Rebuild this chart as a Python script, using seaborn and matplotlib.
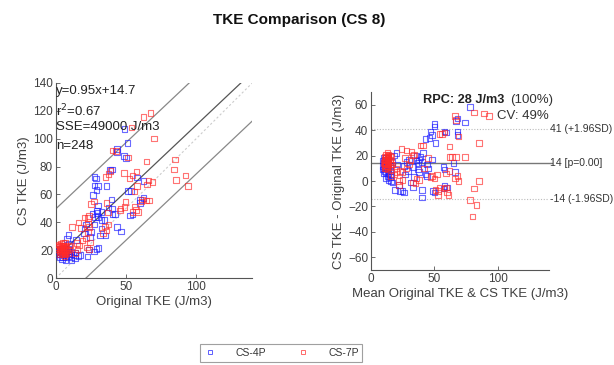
import numpy as np
import pandas as pd
import matplotlib
matplotlib.use("Agg")
import matplotlib.pyplot as plt
import seaborn as sns

sns.set_theme(style="white")
plt.rcParams['font.family'] = ['Liberation Sans', 'DejaVu Sans']

# Bland-Altman readings (mean, difference) per group; original/CS derived from them
blue_mean = [78, 68, 67, 74, 50, 50, 47, 48, 46, 51, 43, 58, 59, 68, 68, 48, 39, 38, 40, 37,
             36, 36, 44, 45, 37, 38, 43, 44, 57, 58, 66, 58, 60, 57, 49, 50, 40, 40, 31, 33,
             23, 25, 26, 19, 22, 28, 30, 18, 20, 17, 21, 26, 29, 33, 27, 34, 41, 65,
             9, 10, 10, 11, 9, 12, 13, 11, 12, 14, 15, 14, 16, 13, 12, 11, 10, 9, 13, 14,
             15, 16, 12, 17, 10, 11, 13, 14, 12, 15]
blue_diff = [58, 49, 47, 46, 45, 43, 39, 36, 34, 30, 33, 39, 38, 39, 36, 17, 19, 17, 15, 14,
             20, 16, 13, 10, 9, 7, 5, 4, 11, 9, 7, -4, -5, -6, -8, -9, -7, -13, -1, -5,
             -8, -8, -9, -7, -3, 15, 17, 20, 22, 15, 13, 12, 8, 11, 5, 3, 22, 14,
             12, 14, 10, 8, 16, 11, 9, 13, 15, 6, 3, 1, 0, 4, 18, 17, 6, 9, 12, 14,
             8, 5, 2, -1, 18, 11, 16, 10, 7, 12]
red_mean = [66, 67, 81, 89, 93, 69, 56, 58, 54, 85, 74, 67, 62, 62, 64, 62, 41, 39, 24, 28,
            32, 33, 34, 31, 30, 17, 20, 23, 28, 25, 20, 18, 16, 22, 25, 22, 36, 38, 33, 35,
            47, 48, 50, 52, 54, 53, 51, 53, 60, 61, 59, 58, 66, 68, 59, 69, 85, 81, 78, 83,
            80, 45, 42, 27,
            11, 12, 13, 12, 13, 14, 11, 12, 13, 14, 12, 11, 13, 14, 15, 12, 13, 11, 14, 12,
            13, 15, 14, 10, 11, 15, 16, 12, 13, 14, 16, 15, 13, 12, 14, 11]
red_diff = [51, 48, 54, 53, 51, 35, 37, 38, 37, 30, 19, 19, 27, 19, 19, 8, 28, 28, 25, 24,
            23, 20, 21, 16, 13, 13, 10, 8, 10, 7, 7, 5, 4, 0, 1, -3, 2, 1, -1, -2,
            3, 4, 2, 5, -5, -8, -7, -11, -9, -11, -5, -6, 2, 4, 6, 0, 0, -6, -15, -19,
            -28, 18, 10, 18,
            12, 14, 16, 18, 20, 17, 15, 10, 13, 19, 16, 19, 11, 14, 17, 21, 18, 17, 12, 13,
            15, 20, 21, 14, 10, 15, 13, 12, 9, 16, 19, 11, 22, 17, 18, 13]

group_names = ["CS-4P", "CS-7P"]
group_colors = ["#1a1aff", "#ff2a2a"]

fit_slope, fit_icpt, fit_band = 0.95, 14.7, 35.0
stats_lines = ["y=0.95x+14.7", "r$^2$=0.67", "SSE=49000 J/m3", "n=248"]
ba_mean, ba_upper, ba_lower = 14, 41, -14
ba_labels = ["41 (+1.96SD)", "14 [p=0.00]", "-14 (-1.96SD)"]

frames = []
for name, m, d in [("CS-4P", blue_mean, blue_diff), ("CS-7P", red_mean, red_diff)]:
    m = np.asarray(m, float); d = np.asarray(d, float)
    frames.append(pd.DataFrame({"group": name, "mean": m, "diff": d,
                                "orig": m - d / 2, "cs": m + d / 2}))
df = pd.concat(frames, ignore_index=True)

fig = plt.figure(figsize=(6.14, 3.65), dpi=100)
ax1 = fig.add_axes([0.091, 0.238, 0.320, 0.535])
ax2 = fig.add_axes([0.604, 0.260, 0.290, 0.488])

tick_col = "#404040"
for ax in (ax1, ax2):
    for s in ("top", "right"):
        ax.spines[s].set_visible(False)
    for s in ("left", "bottom"):
        ax.spines[s].set_color("#555555")
        ax.spines[s].set_linewidth(0.8)
    ax.tick_params(direction="in", length=3, width=0.6, colors="#555555",
                   labelcolor=tick_col, labelsize=8.5, left=True, bottom=True, pad=2)

# Left: correlation plot
xs = np.array([0, 140])
ax1.plot(xs, xs, color="#cccccc", lw=0.8, ls=(0, (2, 2)), zorder=1)
ax1.plot(xs, fit_slope * xs + fit_icpt, color="#555555", lw=0.9, zorder=1)
ax1.plot(xs, fit_slope * xs + fit_icpt + fit_band, color="#888888", lw=0.9, zorder=1)
ax1.plot(xs, fit_slope * xs + fit_icpt - fit_band, color="#888888", lw=0.9, zorder=1)

handles = []
for name, col in zip(group_names, group_colors):
    sub = df[df.group == name]
    sns.scatterplot(data=sub, x="orig", y="cs", ax=ax1, marker="s", s=16,
                    facecolors="none", edgecolor=col, linewidth=0.8, alpha=0.65, zorder=3)
    sns.scatterplot(data=sub, x="mean", y="diff", ax=ax2, marker="s", s=16,
                    facecolors="none", edgecolor=col, linewidth=0.8, alpha=0.65, zorder=3)
    handles.append(plt.Line2D([], [], ls="none", marker="s", ms=3.2, mfc="none",
                              mec=col, mew=0.7, alpha=0.7, label=name))

ax1.set_xlim(0, 140)
ax1.set_ylim(0, 140)
ax1.set_xticks([0, 50, 100])
ax1.set_yticks(np.arange(0, 141, 20))
ax1.set_xlabel("Original TKE (J/m3)", fontsize=9.5, color=tick_col, labelpad=2)
ax1.set_ylabel("CS TKE (J/m3)", fontsize=9.5, color=tick_col, labelpad=2)
for txt, yv in zip(stats_lines, [134.5, 120, 108.6, 95]):
    ax1.text(0.3, yv, txt, fontsize=9.5, color="#222222", va="center", ha="left")

# Right: Bland-Altman
ax2.axhline(ba_mean, color="#777777", lw=1.0, zorder=1, xmax=1.02, clip_on=False)
ax2.axhline(ba_upper, color="#bbbbbb", lw=0.8, ls=(0, (1, 1.5)), zorder=1)
ax2.axhline(ba_lower, color="#bbbbbb", lw=0.8, ls=(0, (1, 1.5)), zorder=1)
ax2.set_xlim(0, 140)
ax2.set_ylim(-70, 70)
ax2.set_xticks([0, 50, 100])
ax2.set_yticks(np.arange(-60, 61, 20))
ax2.set_xlabel("Mean Original TKE & CS TKE (J/m3)", fontsize=9.5, color=tick_col, labelpad=2)
ax2.set_ylabel("CS TKE - Original TKE (J/m3)", fontsize=9.5, color=tick_col, labelpad=2)
for txt, yv in zip(ba_labels, [ba_upper, ba_mean, ba_lower]):
    ax2.text(1.005, yv, txt, transform=ax2.get_yaxis_transform(), fontsize=7.5,
             color="#333333", va="center", ha="left")
ax2.text(41, 64, "RPC: 28 J/m3", fontsize=9.2, fontweight="bold", color="#222222",
         va="center", ha="left")
ax2.text(109.5, 64, "(100%)", fontsize=9.5, color="#333333", va="center", ha="left")
ax2.text(99, 51.5, "CV: 49%", fontsize=9.5, color="#333333", va="center", ha="left")

fig.text(0.488, 0.945, "TKE Comparison (CS 8)", fontsize=11, fontweight="bold",
         ha="center", va="center", color="#111111")

leg = fig.legend(handles=handles, loc="lower center", bbox_to_anchor=(0.458, -0.005),
                 ncol=2, fontsize=7.5, frameon=True, fancybox=False, handlelength=1.2,
                 columnspacing=3.0, handletextpad=1.8, borderpad=0.35)
leg.get_frame().set_edgecolor("#888888")
leg.get_frame().set_linewidth(0.8)
for t in leg.get_texts():
    t.set_color("#333333")

fig.savefig("out.png", dpi=100)
